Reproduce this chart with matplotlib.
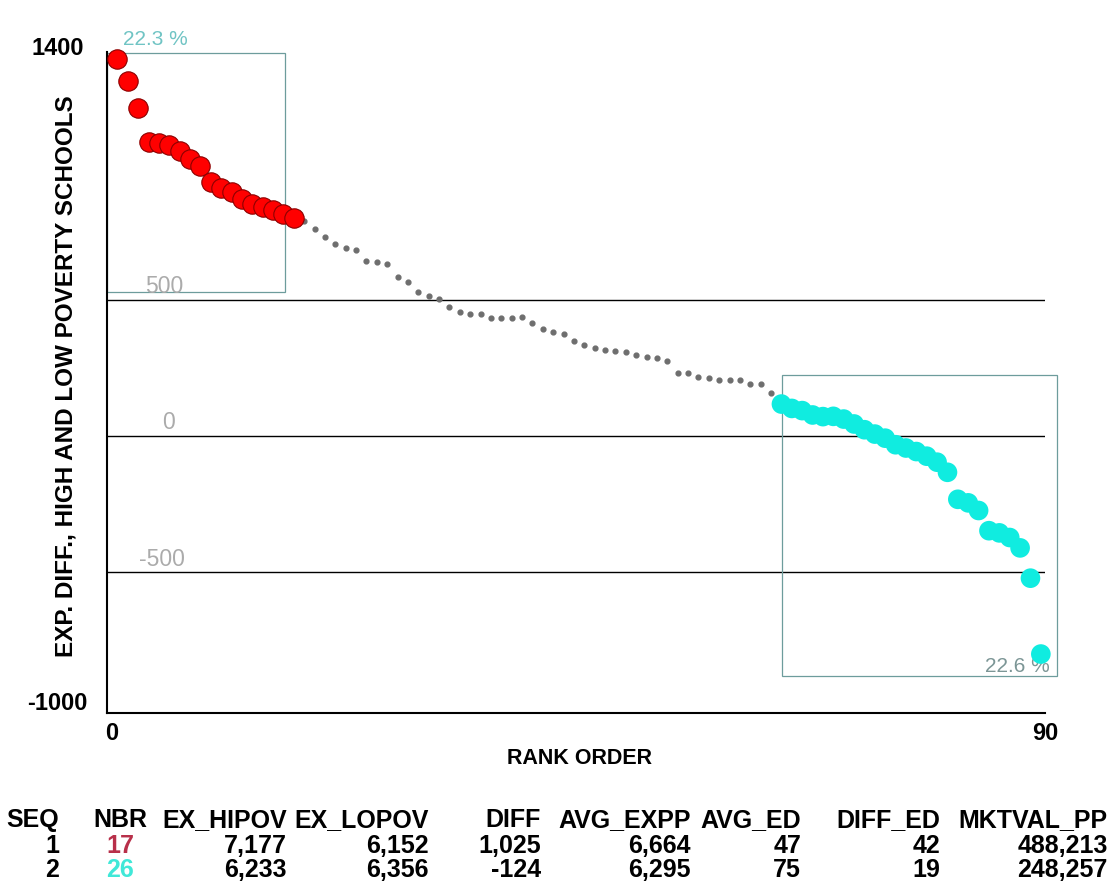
import numpy as np
import matplotlib
matplotlib.use('Agg')
import matplotlib.pyplot as plt
import matplotlib.transforms as mtransforms
from matplotlib.patches import Rectangle

plt.rcParams['font.family'] = ['Liberation Sans', 'DejaVu Sans']
plt.rcParams['axes.unicode_minus'] = False

# expenditure difference (high minus low poverty schools), in rank order
top_vals = [1383, 1302, 1201, 1078, 1073, 1066, 1045, 1015, 988, 929, 907, 895,
            868, 850, 838, 828, 813, 797]
mid_vals = [789, 758, 728, 703, 687, 681, 642, 636, 630, 581, 565, 529, 514, 502,
            471, 455, 447, 446, 432, 432, 433, 435, 413, 392, 382, 374, 349, 334,
            322, 315, 310, 309, 297, 291, 285, 276, 230, 230, 215, 212, 206, 206,
            206, 190, 190, 158]
bot_vals = [117, 101, 93, 77, 71, 72, 62, 44, 23, 7, -8, -32, -44, -57, -74, -96,
            -133, -232, -245, -273, -347, -355, -372, -410, -521, -799]
top_pct = '22.3 %'
bot_pct = '22.6 %'
ref_lines = [500, 0, -500]
y_ticks = [1400, -1000]
x_ticks = [0, 90]

table_cols = ['SEQ', 'NBR', 'EX_HIPOV', 'EX_LOPOV', 'DIFF', 'AVG_EXPP', 'AVG_ED',
              'DIFF_ED', 'MKTVAL_PP']
table_rows = [['1', '17', '7,177', '6,152', '1,025', '6,664', '47', '42', '488,213'],
              ['2', '26', '6,233', '6,356', '-124', '6,295', '75', '19', '248,257']]
nbr_colors = ['#b8304a', '#40e8d8']

n_top, n_mid, n_bot = len(top_vals), len(mid_vals), len(bot_vals)
top_rank = np.arange(1, n_top + 1)
mid_rank = np.arange(n_top + 1, n_top + n_mid + 1)
bot_rank = np.arange(n_top + n_mid + 1, n_top + n_mid + n_bot + 1)

W, H = 1113, 895
fig = plt.figure(figsize=(W / 100, H / 100), dpi=100)
ax = fig.add_axes([107 / W, (H - 714) / H, 938 / W, 661 / H])
ax.set_xlim(0, 90.4)
ax.set_ylim(-1015, 1407)

for v in ref_lines:
    ax.axhline(v, color='black', lw=1.0, zorder=1)

# group boxes
box_col = '#6d9c9c'
ax.add_patch(Rectangle((0, top_vals[-1] - 271), top_rank[-1] - 0.8,
                       top_vals[0] - top_vals[-1] + 293,
                       fill=False, ec=box_col, lw=0.9, clip_on=False, zorder=2))
ax.add_patch(Rectangle((bot_rank[0] + 0.1, bot_vals[-1] - 80),
                       bot_rank[-1] - bot_rank[0] + 1.5,
                       bot_vals[0] - bot_vals[-1] + 186,
                       fill=False, ec=box_col, lw=0.9, clip_on=False, zorder=2))

ax.text(1.5, 1436, top_pct, color='#70c4c4', fontsize=15, ha='left', va='baseline')
ax.text(84.6, -861, bot_pct, color='#7c9696', fontsize=15, ha='left', va='baseline',
        zorder=3)

label_x = [5.55, 5.95, 5.3]
for v, lx in zip(ref_lines, label_x):
    ax.text(lx, v + 28, str(v), color='#ababab', fontsize=16.5, ha='center',
            va='baseline')

ax.scatter(mid_rank, mid_vals, s=12, color='#6e6e6e', zorder=4, clip_on=False)
ax.scatter(top_rank, top_vals, s=195, color='#ff0000', edgecolors='#8b0000',
           linewidths=0.8, zorder=5, clip_on=False)
ax.scatter(bot_rank, bot_vals, s=200, color='#10ece0', edgecolors='none',
           zorder=5, clip_on=False)

for side in ['top', 'right']:
    ax.spines[side].set_visible(False)
for side in ['left', 'bottom']:
    ax.spines[side].set_linewidth(1.5)

ax.set_xticks(x_ticks)
ax.set_yticks(y_ticks)
ax.tick_params(length=0, labelsize=17)
ax.tick_params(axis='x', pad=6)
ax.tick_params(axis='y', pad=35.6)
offset = mtransforms.ScaledTranslation(4.5 / 100, 0, fig.dpi_scale_trans)
for lab in ax.get_xticklabels():
    lab.set_fontweight('bold')
    lab.set_transform(lab.get_transform() + offset)
for lab in ax.get_yticklabels():
    lab.set_fontweight('bold')
    lab.set_ha('center')
    lab.set_va('baseline')

ax.set_xlabel('RANK ORDER', fontsize=15.5, fontweight='bold')
ax.xaxis.set_label_coords(0.504, -0.052)
ax.set_ylabel('EXP. DIFF., HIGH AND LOW POVERTY SCHOOLS', fontsize=17.5,
              fontweight='bold', va='center')
ax.yaxis.set_label_coords(-0.0437, 0.511)

# summary table under the chart
col_x = [59, 120, 287, 429, 541, 691, 801, 940, 1108]
col_ha = ['right', 'center'] + ['right'] * 7
row_y = [820, 846, 870]
for x, ha, name in zip(col_x, col_ha, table_cols):
    fig.text(x / W, 1 - row_y[0] / H, name, ha=ha, va='center', fontsize=18,
             fontweight='bold')
for i, row in enumerate(table_rows):
    for j, (x, ha, val) in enumerate(zip(col_x, col_ha, row)):
        col = nbr_colors[i] if j == 1 else 'black'
        fig.text(x / W, 1 - row_y[i + 1] / H, val, ha=ha, va='center',
                 fontsize=18, fontweight='bold', color=col)

fig.savefig('out.png', dpi=100)
